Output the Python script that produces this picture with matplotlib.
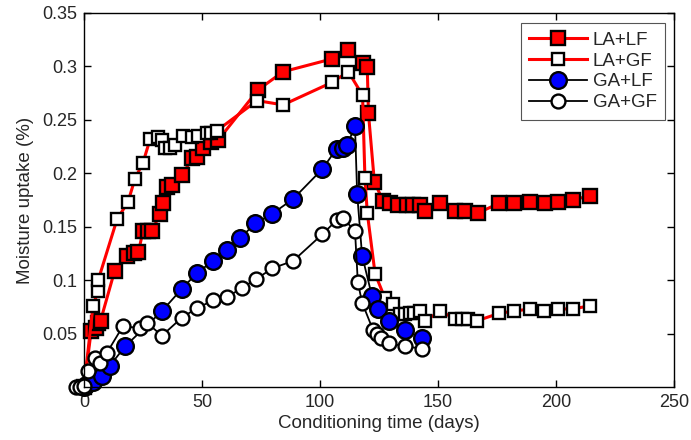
import numpy as np
from matplotlib import pyplot as plt

plt.rcParams['font.family'] = ['Liberation Sans', 'DejaVu Sans']

# LA+LF (filled red squares)
la_lf_days = [0, 3, 5, 6, 7, 13, 18, 21, 23, 25, 27, 29, 32, 33.5, 35, 37.3,
              41.5, 45.8, 48, 50.4, 54, 56.8, 73.7, 84.3, 105, 112, 118, 120,
              120.5, 123, 126.7, 129.7, 133, 136.9, 139.4, 142.4, 144.5, 151,
              157, 161.4, 167, 176, 182, 189, 195.3, 201, 207, 214.4]
la_lf_vals = [0, 0.052, 0.055, 0.060, 0.062, 0.109, 0.123, 0.125, 0.126,
              0.146, 0.146, 0.146, 0.162, 0.172, 0.187, 0.189, 0.198, 0.214,
              0.215, 0.224, 0.229, 0.231, 0.278, 0.295, 0.307, 0.315, 0.303,
              0.299, 0.256, 0.192, 0.174, 0.172, 0.170, 0.170, 0.170, 0.170,
              0.165, 0.172, 0.165, 0.165, 0.163, 0.172, 0.172, 0.173, 0.172,
              0.173, 0.175, 0.179]

# LA+GF (open squares, red line)
la_gf_days = [0, 3.8, 6, 6, 14, 18.6, 21.6, 25, 28, 31.4, 33, 34.3, 36.4,
              38.6, 42, 45.8, 48.3, 52, 54, 56.4, 73.3, 84.3, 105, 112, 118,
              119, 120, 123.3, 127.5, 131, 134, 136, 138, 140, 142.4, 144.5,
              151, 157, 160, 162.7, 166.5, 176, 182, 189, 195, 201, 207, 214.4]
la_gf_vals = [0, 0.076, 0.090, 0.100, 0.157, 0.173, 0.195, 0.210, 0.232,
              0.234, 0.231, 0.224, 0.224, 0.226, 0.235, 0.234, 0.235, 0.238,
              0.238, 0.240, 0.268, 0.264, 0.285, 0.295, 0.273, 0.196, 0.163,
              0.106, 0.083, 0.078, 0.068, 0.068, 0.069, 0.069, 0.071, 0.062,
              0.071, 0.064, 0.064, 0.064, 0.062, 0.069, 0.071, 0.073, 0.071,
              0.073, 0.073, 0.076]

# GA+LF (filled blue circles)
ga_lf_days = [0, 1, 4, 7.6, 11, 17.4, 33, 41.5, 48, 54.7, 60.6, 66, 72.5,
              79.7, 88.6, 101, 107, 109.7, 111.4, 114.8, 115.7, 117.8, 122,
              124.6, 129, 136, 143]
ga_lf_vals = [0, 0.002, 0.005, 0.010, 0.020, 0.038, 0.071, 0.092, 0.107,
              0.118, 0.128, 0.139, 0.153, 0.162, 0.176, 0.204, 0.223, 0.224,
              0.226, 0.244, 0.181, 0.123, 0.085, 0.073, 0.062, 0.053, 0.046]

# GA+GF (open circles)
ga_gf_days = [-3.5, -1.5, 0, 1.7, 4.7, 6.8, 9.7, 16.5, 23.7, 26.7, 33, 41.5,
              48, 54.7, 60.6, 67, 73, 79.7, 88.6, 101, 107, 109.7, 114.8, 116,
              117.8, 122.5, 124, 126, 129, 136, 143]
ga_gf_vals = [0, 0, 0.001, 0.015, 0.027, 0.022, 0.032, 0.057, 0.055, 0.060,
              0.048, 0.065, 0.074, 0.081, 0.084, 0.093, 0.101, 0.111, 0.118,
              0.143, 0.156, 0.158, 0.146, 0.098, 0.079, 0.053, 0.050, 0.046,
              0.041, 0.038, 0.036]

text_col = '#262626'

fig = plt.figure(figsize=(6.91, 4.40), dpi=100)
ax = fig.add_axes([0.1216, 0.1205, 0.854, 0.85])

ax.plot(la_lf_days, la_lf_vals, '-s', color='red', lw=2.2,
        markerfacecolor='red', markeredgecolor='black', markersize=10.5,
        markeredgewidth=1.7, label='LA+LF', clip_on=False)
ax.plot(la_gf_days, la_gf_vals, '-s', color='red', lw=2.2,
        markerfacecolor='white', markeredgecolor='black', markersize=8.5,
        markeredgewidth=1.7, label='LA+GF', clip_on=False)
ax.plot(ga_lf_days, ga_lf_vals, '-o', color='black', lw=1.3,
        markerfacecolor='blue', markeredgecolor='black', markersize=12,
        markeredgewidth=1.7, label='GA+LF', clip_on=False)
ax.plot(ga_gf_days, ga_gf_vals, '-o', color='black', lw=1.3,
        markerfacecolor='white', markeredgecolor='black', markersize=10,
        markeredgewidth=1.7, label='GA+GF', clip_on=False)

ax.set_xlim(0, 250)
ax.set_ylim(0, 0.35)
ax.set_xticks(np.arange(0, 251, 50))
ax.set_yticks(np.arange(0.05, 0.351, 0.05))
ax.set_yticklabels(['0.05', '0.1', '0.15', '0.2', '0.25', '0.3', '0.35'])
ax.tick_params(direction='in', top=True, right=True, labelsize=13,
               length=5, width=1, pad=5, labelcolor=text_col)
for spine in ax.spines.values():
    spine.set_linewidth(1)
ax.set_xlabel('Conditioning time (days)', fontsize=13.5, labelpad=3,
              color=text_col)
ax.set_ylabel('Moisture uptake (%)', fontsize=13.5, labelpad=6,
              color=text_col)

leg = ax.legend(loc='upper right', fontsize=13.5, fancybox=False,
                framealpha=1, edgecolor='#555555', handlelength=3.1,
                borderpad=0.45, labelspacing=0.2, handletextpad=0.3,
                borderaxespad=0, bbox_to_anchor=(0.985, 0.973))
leg.get_frame().set_linewidth(0.8)
for t in leg.get_texts():
    t.set_color(text_col)

fig.savefig('out.png', dpi=100)
